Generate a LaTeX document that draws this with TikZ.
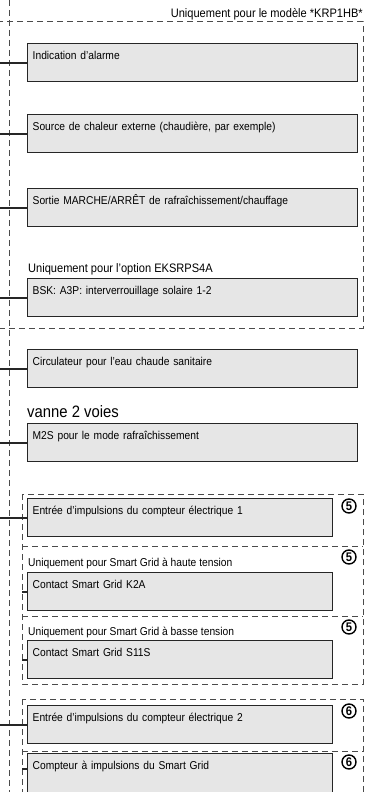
\documentclass[tikz,border=0pt]{standalone}
\usepackage{fontspec}
\setmainfont{Liberation Sans}[FakeStretch=0.9]
\usetikzlibrary{positioning}
\definecolor{BoxFill}{HTML}{E6E6E6}
\definecolor{BoxInk}{HTML}{262626}
\definecolor{DashInk}{HTML}{4A4A4A}
\tikzset{
  unitbox/.style={draw=BoxInk,fill=BoxFill,line width=1.4pt,anchor=north west,
    align=left,inner xsep=5pt,inner ysep=4pt,text height=12pt,text depth=18pt,
    font=\fontsize{11.4}{13}\selectfont},
  widebox/.style={unitbox,text width=320pt},
  narrowbox/.style={unitbox,text width=295pt},
  wire/.style={draw=BoxInk,line width=1.8pt},
  optframe/.style={draw=DashInk,dash pattern=on 6pt off 4pt,line width=1pt},
  caption/.style={inner sep=0pt,font=\fontsize{12.3}{14}\selectfont},
  bigcaption/.style={inner sep=0pt,font=\fontsize{16.5}{18}\selectfont},
  smallcaption/.style={inner sep=0pt,font=\fontsize{11.4}{13}\selectfont},
  notemark/.style={circle,draw=black,line width=1.4pt,inner sep=0pt,
    minimum size=14pt,font=\fontsize{12.5}{13}\selectfont\bfseries}
}

\begin{document}
\begin{tikzpicture}[x=1pt,y=-1pt]
  \useasboundingbox (0,0) rectangle (366,792);
  \clip (0,0) rectangle (366,792);
  % frames for the optional parts
  \draw[optframe] (9,0) -- (9,800);
  \draw[optframe] (-5,22) rectangle (363,328);
  \draw[optframe] (22,494) rectangle (363,684);
  \draw[optframe] (22,546) -- (363,546);
  \draw[optframe] (22,616) -- (363,616);
  \draw[optframe] (22,699) rectangle (363,810);
  \draw[optframe] (22,751) -- (363,751);
  \coordinate (rail) at (0,0);
  \coordinate (grpedge) at (22,0);

  \node[caption,anchor=base east] (krp) at (363,18) {Uniquement pour le modèle *KRP1HB*};
  \node[widebox] (alarm) at (27,43) {Indication d'alarme};
  \node[widebox] (heat) at (27,114) {Source de chaleur externe (chaudière, par exemple)};
  \node[widebox] (onoff) at (27,188) {Sortie MARCHE/ARRÊT de rafraîchissement/chauffage};
  \node[caption,anchor=base west] (solar) at (28,272) {Uniquement pour l'option EKSRPS4A};
  \node[widebox] (bsk) at (27,278) {BSK: A3P: interverrouillage solaire 1-2};
  \node[widebox] (pump) at (27,349) {Circulateur pour l'eau chaude sanitaire};
  \node[bigcaption,anchor=base west] (valve) at (27,417) {vanne 2 voies};
  \node[widebox] (m2s) at (27,423) {M2S pour le mode rafraîchissement};

  \node[narrowbox] (meter1) at (27,498) {Entrée d'impulsions du compteur électrique 1};
  \node[smallcaption,anchor=base west] (hv) at (28,566) {Uniquement pour Smart Grid à haute tension};
  \node[narrowbox] (k2a) at (27,572) {Contact Smart Grid K2A};
  \node[smallcaption,anchor=base west] (lv) at (28,635) {Uniquement pour Smart Grid à basse tension};
  \node[narrowbox] (s11s) at (27,640) {Contact Smart Grid S11S};
  \node[narrowbox] (meter2) at (27,705) {Entrée d'impulsions du compteur électrique 2};
  \node[narrowbox,text depth=40pt] (sgmeter) at (27,753) {Compteur à impulsions du Smart Grid};

  \node[notemark] (n1) at (349,506) {5};
  \node[notemark] (n2) at (349,557) {5};
  \node[notemark] (n3) at (349,627) {5};
  \node[notemark] (n4) at (349,711) {6};
  \node[notemark] (n5) at (349,762) {6};

  % connections
  \draw[wire] (rail |- alarm.west) -- (alarm.west);
  \draw[wire] (rail |- heat.west) -- (heat.west);
  \draw[wire] (rail |- onoff.west) -- (onoff.west);
  \draw[wire] (rail |- bsk.west) -- (bsk.west);
  \draw[wire] (rail |- pump.west) -- (pump.west);
  \draw[wire] (rail |- m2s.west) -- (m2s.west);
  \draw[wire] (rail |- meter1.west) -- (meter1.west);
  \draw[wire] (grpedge |- k2a.west) -- (k2a.west);
  \draw[wire] (grpedge |- s11s.west) -- (s11s.west);
  \draw[wire] (rail |- meter2.west) -- (meter2.west);
  \draw[wire] (grpedge |- 0,769) -- (sgmeter.west |- 0,769);
\end{tikzpicture}
\end{document}
